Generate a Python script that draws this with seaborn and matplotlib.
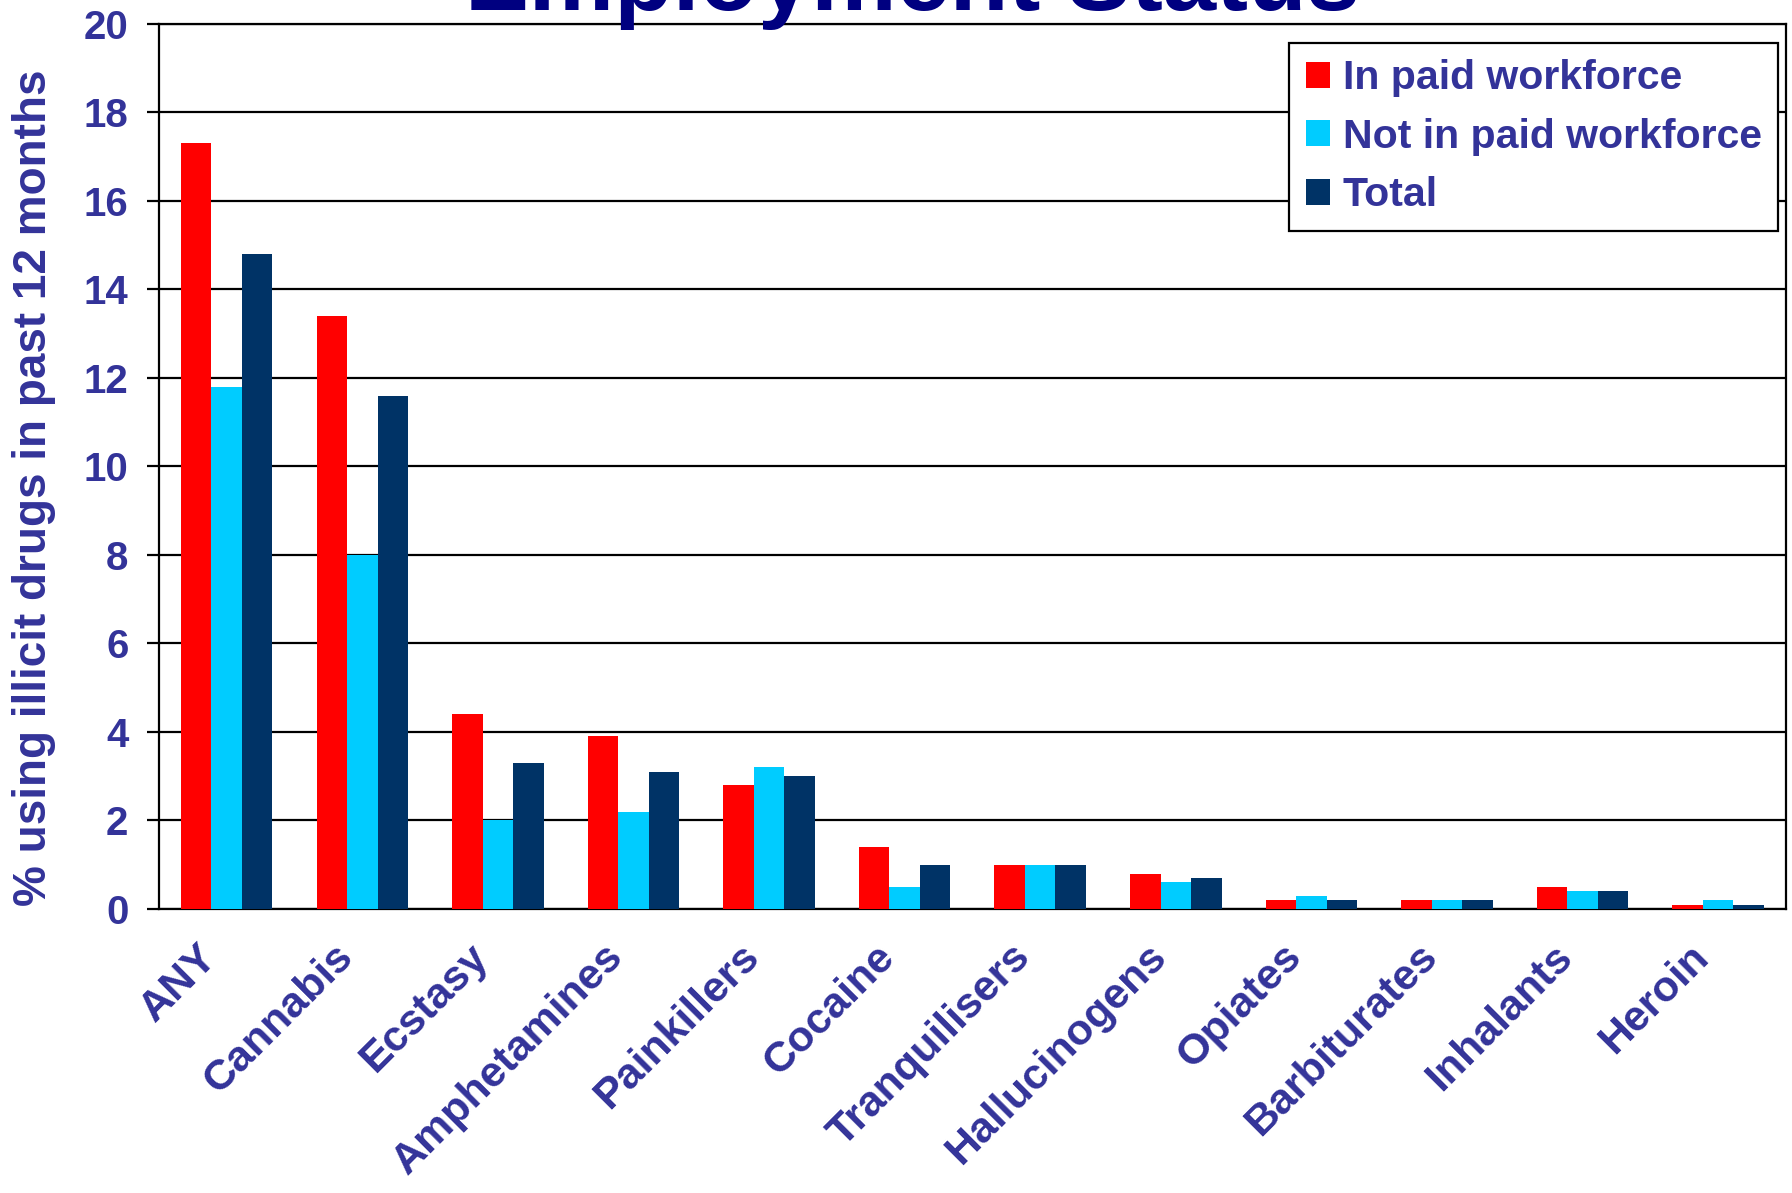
import numpy as np
import pandas as pd
import matplotlib
matplotlib.use("Agg")
import matplotlib.pyplot as plt
import matplotlib.transforms as mtransforms
import seaborn as sns

# data
drugs = ["ANY", "Cannabis", "Ecstasy", "Amphetamines", "Painkillers", "Cocaine",
         "Tranquilisers", "Hallucinogens", "Opiates", "Barbiturates", "Inhalants", "Heroin"]
in_paid = [17.3, 13.4, 4.4, 3.9, 2.8, 1.4, 1.0, 0.8, 0.2, 0.2, 0.5, 0.1]
not_in_paid = [11.8, 8.0, 2.0, 2.2, 3.2, 0.5, 1.0, 0.6, 0.3, 0.2, 0.4, 0.2]
total = [14.8, 11.6, 3.3, 3.1, 3.0, 1.0, 1.0, 0.7, 0.2, 0.2, 0.4, 0.1]
groups = ["In paid workforce", "Not in paid workforce", "Total"]
colors = ["#FF0000", "#00CCFF", "#003366"]
yticks = [0, 2, 4, 6, 8, 10, 12, 14, 16, 18, 20]

df = pd.DataFrame({
    "drug": drugs * 3,
    "group": np.repeat(groups, len(drugs)),
    "value": in_paid + not_in_paid + total,
})

sns.set_style("white")
plt.rcParams["font.family"] = ["Liberation Sans", "DejaVu Sans"]
plt.rcParams["font.weight"] = "bold"

txt = "#333399"

fig = plt.figure(figsize=(17.92, 11.93), dpi=100)
ax = fig.add_axes([0.0887, 0.2381, 0.9079, 0.7418])

sns.barplot(data=df, x="drug", y="value", hue="group", order=drugs,
            hue_order=groups, palette=colors, width=0.675, linewidth=0,
            saturation=1, ax=ax, zorder=3)

ax.set_xlim(-0.5, len(drugs) - 0.5)
ax.set_ylim(0, 20)
ax.set_yticks(yticks)
ax.set_yticklabels([str(v) for v in yticks], color=txt, fontsize=29, fontweight="bold")
ax.grid(axis="y", color="black", linewidth=1.6, zorder=0)
ax.set_axisbelow(True)

ax.set_xticks(range(len(drugs)))
ax.set_xticklabels(drugs, rotation=45, ha="right", va="top",
                   rotation_mode="anchor", color=txt, fontsize=31, fontweight="bold")
ax.set_xticks(np.arange(-0.5, len(drugs), 1.0), minor=True)
ax.tick_params(axis="x", which="major", length=0, pad=20)
ax.tick_params(axis="x", which="minor", length=9, width=1.6, color="black", direction="out")
ax.tick_params(axis="y", length=9, width=1.6, color="black", direction="out", pad=13, left=True)

# nudge the slanted category labels to the left, as in the original
shift = mtransforms.ScaledTranslation(-0.30, 0, fig.dpi_scale_trans)
for lab in ax.xaxis.get_majorticklabels():
    lab.set_transform(lab.get_transform() + shift)

for side in ["left", "bottom", "right", "top"]:
    ax.spines[side].set_color("black")
    ax.spines[side].set_linewidth(1.6)
    ax.spines[side].set_visible(True)

ax.set_xlabel("")
ax.set_ylabel("% using illicit drugs in past 12 months", color=txt,
              fontsize=33, fontweight="bold")
ax.yaxis.set_label_coords(-0.063, 0.476)

leg = ax.legend(loc="upper right", bbox_to_anchor=(0.9922, 0.964),
                bbox_transform=fig.transFigure, frameon=True, fancybox=False,
                framealpha=1, edgecolor="black", fontsize=29.5,
                handlelength=0.6, handleheight=0.6, handletextpad=0.3,
                labelspacing=0.5, borderpad=0.4, borderaxespad=0)
leg.get_frame().set_linewidth(1.6)
for t in leg.get_texts():
    t.set_color(txt)
    t.set_fontweight("bold")

fig.text(0.509, 1 - 10 / 1193, "Employment Status", ha="center", va="baseline",
         fontsize=69, fontweight="bold", color="#000080")

fig.savefig("out.png", dpi=100)
